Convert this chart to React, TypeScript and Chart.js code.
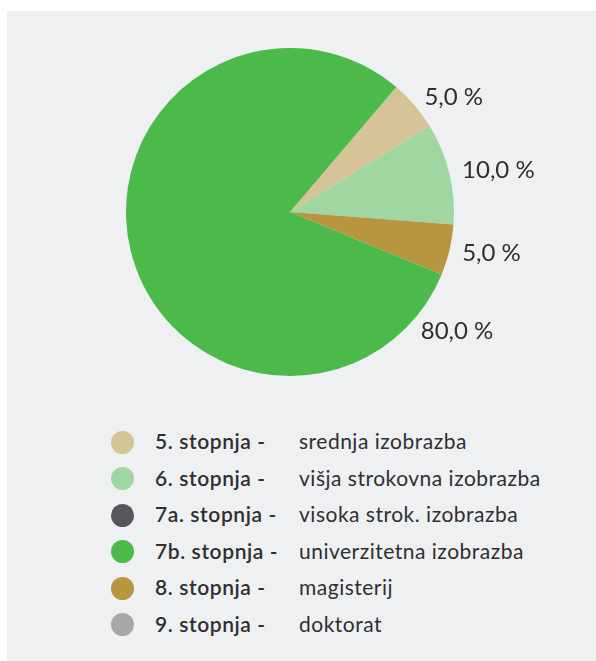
import React, { useEffect, useRef } from "react";
import { Chart, registerables } from "chart.js";

Chart.register(...registerables);

const categories = ["5. stopnja -", "6. stopnja -", "7a. stopnja -", "7b. stopnja -", "8. stopnja -", "9. stopnja -"];
const descriptions = ["srednja izobrazba", "višja strokovna izobrazba", "visoka strok. izobrazba", "univerzitetna izobrazba", "magisterij", "doktorat"];
const values = [5, 10, 0, 80, 5, 0];
const colors = ["#d6c398", "#a0d6a1", "#56575a", "#4cba4a", "#b8953f", "#a6a7a9"];
// clockwise drawing order of the slices
const pieOrder = [0, 1, 4, 3, 2, 5];

const FONT = "Lato, 'DejaVu Sans', sans-serif";
const TEXT = "#2f2f31";

const labelPlugin = {
  id: "outLabels",
  afterDatasetsDraw(chart: any) {
    const ctx = chart.ctx;
    const meta = chart.getDatasetMeta(0);
    const data = chart.data.datasets[0].data as number[];
    ctx.save();
    ctx.font = `24px ${FONT}`;
    ctx.fillStyle = TEXT;
    ctx.textAlign = "left";
    ctx.textBaseline = "middle";
    meta.data.forEach((arc: any, i: number) => {
      const v = data[i];
      if (!v) return;
      const p = arc.getProps(["startAngle", "endAngle", "x", "y", "outerRadius"], true);
      const span = p.endAngle - p.startAngle;
      const a = p.startAngle + Math.min(span / 2, (20 * Math.PI) / 180);
      const r = p.outerRadius + 13;
      const tx = p.x + r * Math.cos(a);
      const ty = p.y + r * Math.sin(a);
      ctx.fillText(v.toFixed(1).replace(".", ",") + " %", tx, ty);
    });
    ctx.restore();
  },
};

export default function App() {
  const ref = useRef<HTMLCanvasElement | null>(null);
  useEffect(() => {
    if (!ref.current) return;
    const chart = new Chart(ref.current, {
      type: "pie",
      data: {
        labels: pieOrder.map((i) => categories[i]),
        datasets: [
          {
            data: pieOrder.map((i) => values[i]),
            backgroundColor: pieOrder.map((i) => colors[i]),
            borderWidth: 0,
          },
        ],
      },
      options: {
        animation: false,
        responsive: false,
        rotation: 40.4,
        layout: { padding: { left: 119, right: 142, top: 37, bottom: 35 } },
        plugins: { legend: { display: false }, tooltip: { enabled: false } },
      },
      plugins: [labelPlugin],
    });
    return () => chart.destroy();
  }, []);

  return (
    <div
      style={{
        position: "absolute",
        left: 7,
        top: 11,
        width: 589,
        height: 650,
        background: "#eff0f2",
        fontFamily: FONT,
        color: TEXT,
      }}
    >
      <canvas ref={ref} width={589} height={400} style={{ display: "block" }} />
      <div style={{ position: "absolute", left: 0, top: 412, width: 589 }}>
        {categories.map((c, i) => (
          <div key={c} style={{ position: "relative", height: 36.6 }}>
            <span
              style={{
                position: "absolute",
                left: 104,
                top: 7.5,
                width: 23,
                height: 23,
                borderRadius: "50%",
                background: colors[i],
              }}
            />
            <span
              style={{
                position: "absolute",
                left: 148,
                top: 0,
                lineHeight: "36.6px",
                fontSize: 21,
                fontWeight: 600,
                letterSpacing: 0.6,
                whiteSpace: "nowrap",
              }}
            >
              {c}
            </span>
            <span
              style={{
                position: "absolute",
                left: 292,
                top: 0,
                lineHeight: "36.6px",
                fontSize: 21,
                letterSpacing: 0.5,
                whiteSpace: "nowrap",
              }}
            >
              {descriptions[i]}
            </span>
          </div>
        ))}
      </div>
    </div>
  );
}
